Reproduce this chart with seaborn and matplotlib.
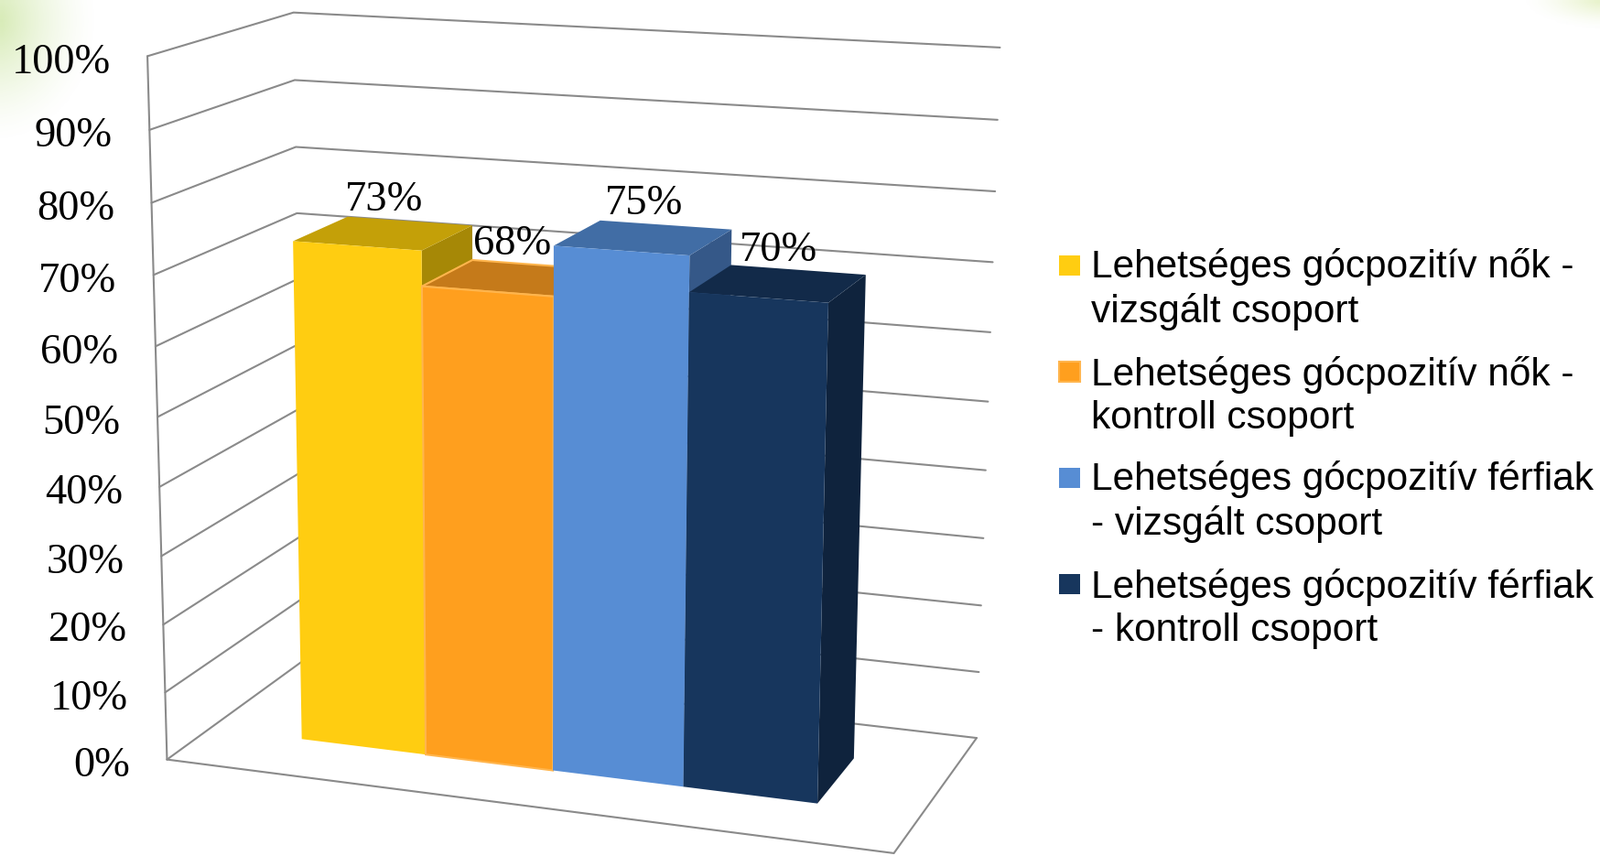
import numpy as np
import matplotlib
matplotlib.use('Agg')
import matplotlib.pyplot as plt
import matplotlib.transforms as mtransforms
from matplotlib.patches import Rectangle
import seaborn as sns

# data
series = ['Lehetséges gócpozitív nők -\nvizsgált csoport',
          'Lehetséges gócpozitív nők -\nkontroll csoport',
          'Lehetséges gócpozitív férfiak\n- vizsgált csoport',
          'Lehetséges gócpozitív férfiak\n- kontroll csoport']
values = [73, 68, 75, 70]
ticks = [0, 10, 20, 30, 40, 50, 60, 70, 80, 90, 100]

front_cols = ['#FFCD11', '#FF9F1E', '#578DD4', '#17365D']
top_cols = ['#C4A008', '#C57A1A', '#416DA5', '#122A49']
side_cols = ['#A68806', '#A9661A', '#355888', '#0F233D']
GRID = '#8A8A8A'

# 3d box of the chart: (x, value, depth) corners and where they land on screen (px)
box_world = [(0, 0, 0), (0, 1, 0), (0, 0, 1), (0, 1, 1), (1, 0, 1), (1, 1, 1), (1, 0, 0)]
box_screen = [(184, 828), (159, 62), (331, 722), (323, 13), (1067, 805), (1092, 52), (977, 933)]

# bar layout inside the box (gap width 150%)
U0 = 0.75 / 5.5
BAR_U = 1 / 5.5
Z_FRONT, Z_BACK = 0.3, 0.7


def fit_camera(world, screen):
    rows = []
    for (X, Y, Z), (x, y) in zip(world, screen):
        x, y = x / 1000, y / 1000
        p = [X, Y, Z, 1]
        rows.append(p + [0, 0, 0, 0] + [-x * c for c in p])
        rows.append([0, 0, 0, 0] + p + [-y * c for c in p])
    _, _, vt = np.linalg.svd(np.array(rows, dtype=float))
    return vt[-1].reshape(3, 4)


P = fit_camera(box_world, box_screen)


def project(X, Y, Z):
    X, Y, Z = np.broadcast_arrays(np.asarray(X, float), np.asarray(Y, float), np.asarray(Z, float))
    h = P[:, 0, None] * X.ravel() + P[:, 1, None] * Y.ravel() + P[:, 2, None] * Z.ravel() + P[:, 3, None]
    return 1000 * h[0] / h[2], 1000 * h[1] / h[2]


class FrontFace(mtransforms.Transform):
    # maps (category position, value in %) onto the front plane of the bars
    input_dims = 2
    output_dims = 2

    def transform_non_affine(self, values):
        values = np.asarray(values, dtype=float)
        X = U0 + (values[:, 0] + 0.5) * BAR_U
        sx, sy = project(X, values[:, 1] / 100, Z_FRONT)
        return np.column_stack([sx, sy])


sns.set_style('white')
fig = plt.figure(figsize=(17.48, 9.35), dpi=100)
ax = fig.add_axes([0, 0, 1, 1])

# soft green glow in the corners
W, H = 1748, 935
gx, gy = np.meshgrid(np.linspace(0, W, 350), np.linspace(0, H, 187))
glow = np.zeros((187, 350, 4))
d1 = np.sqrt(((gx + 10) / 115) ** 2 + ((gy - 20) / 135) ** 2)
d2 = np.sqrt(((gx - 1765) / 100) ** 2 + ((gy + 5) / 35) ** 2)
a1 = 0.55 * np.clip(1 - d1, 0, 1) ** 1.5
a2 = 0.5 * np.clip(1 - d2, 0, 1) ** 1.5
glow[..., 0] = (175 * a1 + 190 * a2) / np.maximum(a1 + a2, 1e-9) / 255
glow[..., 1] = (215 * a1 + 220 * a2) / np.maximum(a1 + a2, 1e-9) / 255
glow[..., 2] = (110 * a1 + 110 * a2) / np.maximum(a1 + a2, 1e-9) / 255
glow[..., 3] = np.clip(a1 + a2, 0, 1)
ax.imshow(glow, extent=(0, W, H, 0), aspect='auto', zorder=0, interpolation='bilinear')

# bars (front faces) from seaborn, bent onto the 3d front plane
sns.barplot(x=series, y=values, hue=series, palette=front_cols, width=1, saturation=1,
            errorbar=None, legend=False, linewidth=0, ax=ax)
bars = sorted(ax.patches, key=lambda p: p.get_x())

# walls and gridlines
for t in ticks:
    v = t / 100
    xs, ys = project([0, 0, 1], [v, v, v], [0, 1, 1])
    ax.plot(xs, ys, color=GRID, lw=1.5, zorder=1, solid_joinstyle='miter')
    x0, y0 = project(0, v, 0)
    ax.annotate(f'{t}%', (x0[0], y0[0]), xytext=(-29, -5), textcoords='offset points',
                ha='right', va='center', fontsize=33.5, family='Liberation Serif', color='black')
xs, ys = project([0, 0], [0, 1], [0, 0])
ax.plot(xs, ys, color=GRID, lw=1.5, zorder=1)
xs, ys = project([0, 1, 1], [0, 0, 0], [0, 0, 1])
ax.plot(xs, ys, color=GRID, lw=1.5, zorder=1, solid_joinstyle='miter')

for i, bar in enumerate(bars):
    zo = 2 + i * 0.1
    xl = U0 + (bar.get_x() + 0.5) * BAR_U
    xr = xl + bar.get_width() * BAR_U
    v = bar.get_height() / 100
    ec = '#FFB54D' if i == 1 else 'none'
    sx, sy = project([xr, xr, xr, xr], [0, v, v, 0], [Z_FRONT, Z_FRONT, Z_BACK, Z_BACK])
    ax.fill(sx, sy, color=side_cols[i], lw=0, zorder=zo)
    tx, ty = project([xl, xr, xr, xl], [v, v, v, v], [Z_FRONT, Z_FRONT, Z_BACK, Z_BACK])
    ax.fill(tx, ty, facecolor=top_cols[i], edgecolor=ec, lw=1.5, zorder=zo + 0.01)
    bar.set_transform(FrontFace() + ax.transData)
    bar.set_zorder(zo + 0.02)
    bar.set_clip_on(False)
    if i == 1:
        bar.set_edgecolor(ec)
        bar.set_linewidth(1.5)
    lx, ly = project((xl + xr) / 2, v, (Z_FRONT + Z_BACK) / 2)
    ax.annotate(f'{values[i]}%', (lx[0], ly[0]), xytext=(0, 18), textcoords='offset points',
                ha='center', va='baseline', fontsize=33.5, family='Liberation Serif',
                color='black', zorder=5)

# legend
for i, lab in enumerate(series):
    base = 303 + 116 * i
    ax.add_patch(Rectangle((1157, base - 24), 23, 22, facecolor=front_cols[i],
                           edgecolor='#FFB54D' if i == 1 else 'none', lw=1.5, zorder=5))
    ax.text(1192, base + 49, lab, va='baseline', ha='left', fontsize=30.5, color='black',
            family='Liberation Sans', linespacing=1.24, zorder=5)

ax.set_xlim(0, W)
ax.set_ylim(H, 0)
ax.axis('off')

fig.savefig('out.png', dpi=100)
